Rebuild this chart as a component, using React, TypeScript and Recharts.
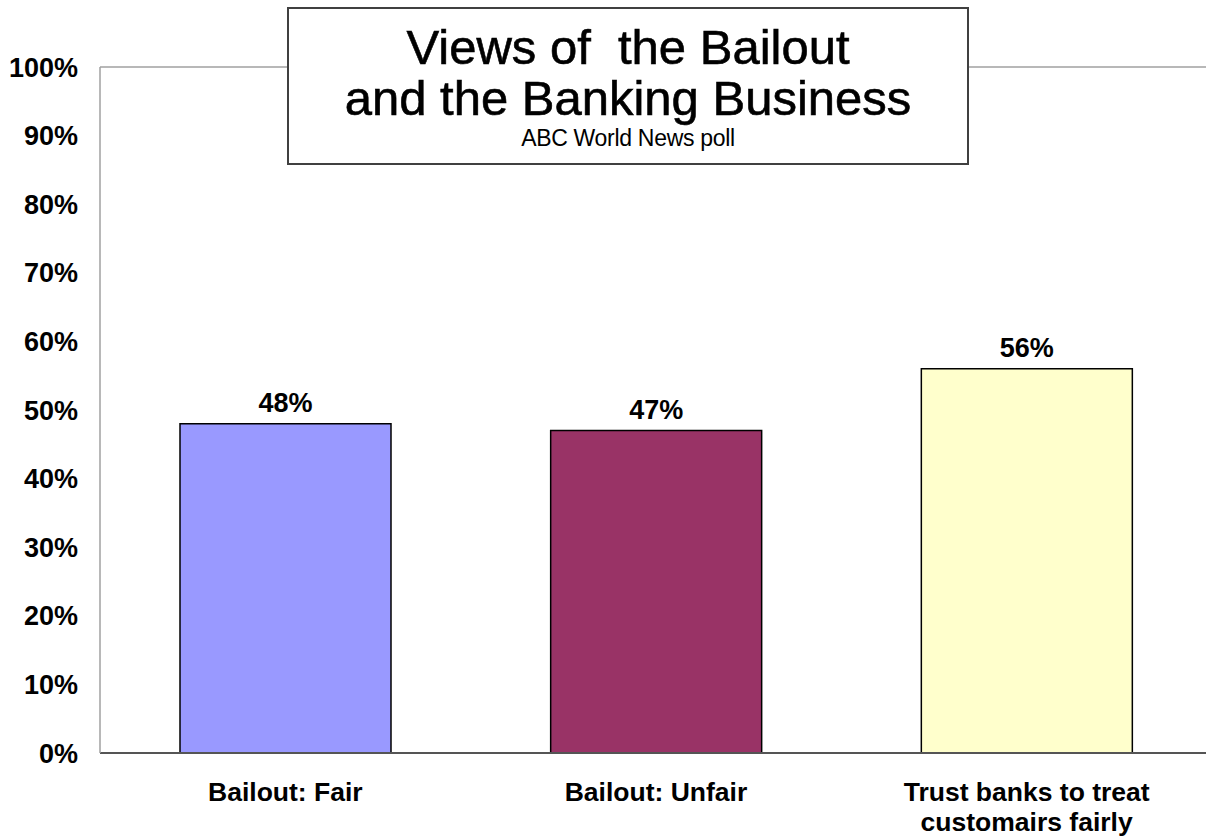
import React from 'react';
import { BarChart, Bar, XAxis, YAxis, Cell, LabelList, ReferenceLine } from 'recharts';

const categories = ['Bailout: Fair', 'Bailout: Unfair', 'Trust banks to treat\ncustomairs fairly'];
const shares = [48, 47, 56];
const barColors = ['#9999FF', '#993366', '#FFFFCC'];
const yTicks = [0, 10, 20, 30, 40, 50, 60, 70, 80, 90, 100];

const data = categories.map((name, i) => ({ name, value: shares[i] }));

const FONT = '"Liberation Sans", Arial, sans-serif';

const CategoryTick = (props: any) => {
  const { x, y, payload } = props;
  const lines = String(payload.value).split('\n');
  return (
    <text x={x} y={y} textAnchor="middle" fontFamily={FONT} fontSize={26.5} fontWeight={700} fill="#000">
      {lines.map((line, i) => (
        <tspan key={i} x={x} dy={i === 0 ? 48 : 30}>{line}</tspan>
      ))}
    </text>
  );
};

export default function App() {
  return (
    <div style={{ position: 'fixed', left: 0, top: 0, width: 1206, height: 836, overflow: 'hidden', background: '#fff' }}>
      <BarChart
        width={1212}
        height={836}
        data={data}
        margin={{ top: 67, right: 0, left: 0, bottom: 0 }}
      >
        <ReferenceLine y={100} stroke="#A0A0A0" strokeWidth={1.5} />
        <XAxis
          dataKey="name"
          height={83}
          tickLine={false}
          tickSize={0}
          tickMargin={0}
          interval={0}
          stroke="#555"
          strokeWidth={2}
          tick={<CategoryTick />}
        />
        <YAxis
          width={100}
          domain={[0, 100]}
          ticks={yTicks}
          tickFormatter={(v: number) => `${v}%`}
          tickLine={false}
          tickSize={0}
          tickMargin={22}
          stroke="#A0A0A0"
          strokeWidth={1.5}
          tick={{ fontFamily: FONT, fontSize: 27, fontWeight: 700, fill: '#000' }}
        />
        <Bar dataKey="value" barSize={211} stroke="#000" strokeWidth={1.5} isAnimationActive={false}>
          {data.map((d, i) => (
            <Cell key={d.name} fill={barColors[i]} />
          ))}
          <LabelList
            dataKey="value"
            position="top"
            offset={12}
            formatter={(v: any) => `${v}%`}
            style={{ fontFamily: FONT, fontSize: 27, fontWeight: 700, fill: '#000' }}
          />
        </Bar>
      </BarChart>
      <svg width={1206} height={836} style={{ position: 'absolute', left: 0, top: 0, pointerEvents: 'none' }}>
        <rect x={288} y={8} width={680} height={156} fill="#fff" stroke="#404040" strokeWidth={2} />
        <text x={628} y={64} textAnchor="middle" fontFamily={FONT} fontSize={49} fill="#000" stroke="#000" strokeWidth={0.6} style={{ whiteSpace: 'pre' }}>
          Views of  the Bailout
        </text>
        <text x={628} y={115} textAnchor="middle" fontFamily={FONT} fontSize={49} fill="#000" stroke="#000" strokeWidth={0.6}>
          and the Banking Business
        </text>
        <text x={628} y={146} textAnchor="middle" fontFamily={FONT} fontSize={23} letterSpacing={-0.3} fill="#000">
          ABC World News poll
        </text>
      </svg>
    </div>
  );
}
